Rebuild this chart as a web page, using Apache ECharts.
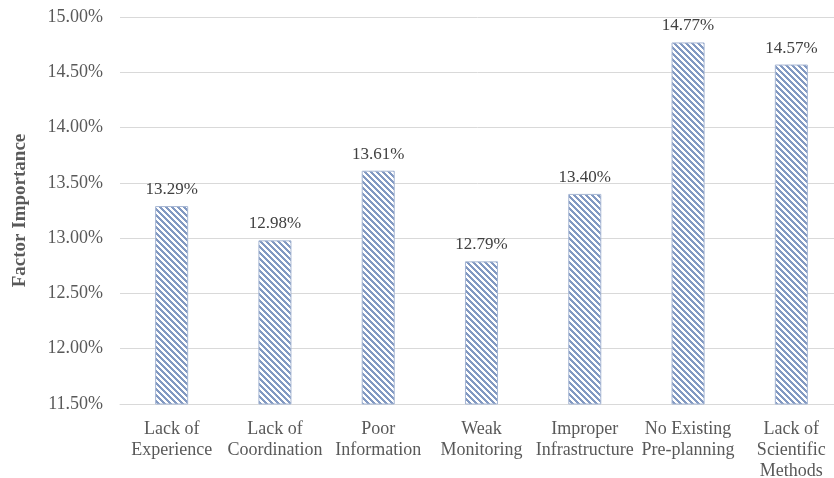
<!DOCTYPE html>
<html>
<head>
<meta charset="utf-8">
<script src="https://cdn.jsdelivr.net/npm/echarts@6/dist/echarts.min.js"></script>
<style>
  html, body { margin: 0; padding: 0; background: #ffffff; }
  #chart { width: 834px; height: 478px; }
</style>
</head>
<body>
<div id="chart"></div>
<script>
// Factors and their relative importance (percent)
const categories = [
  'Lack of\nExperience',
  'Lack of\nCoordination',
  'Poor\nInformation',
  'Weak\nMonitoring',
  'Improper\nInfrastructure',
  'No Existing\nPre-planning',
  'Lack of\nScientific\nMethods'
];
const importance = [13.29, 12.98, 13.61, 12.79, 13.40, 14.77, 14.57];
const yMin = 11.5;
const yMax = 15;
const yStep = 0.5;

// Wide downward-diagonal hatch used to fill the bars
function hatchPattern() {
  const size = 6;
  const c = document.createElement('canvas');
  c.width = size; c.height = size;
  const ctx = c.getContext('2d');
  for (let y = 0; y < size; y++) {
    for (let x = 0; x < size; x++) {
      const k = ((x - y) % size + size) % size;
      ctx.fillStyle = k < 3 ? '#8299c2' : '#ffffff';
      ctx.fillRect(x, y, 1, 1);
    }
  }
  return c;
}

const font = '"Liberation Serif", "Times New Roman", serif';
const chart = echarts.init(document.getElementById('chart'), null, { renderer: 'canvas' });

chart.setOption({
  animation: false,
  backgroundColor: '#ffffff',
  textStyle: { fontFamily: font },
  grid: {
    left: 120, right: -9, top: 17, bottom: 74,
    containLabel: false,
    outerBoundsMode: 'none'
  },
  xAxis: {
    type: 'category',
    data: categories,
    axisLine: { lineStyle: { color: '#d9d9d9', width: 1 } },
    axisTick: { show: false },
    axisLabel: {
      interval: 0,
      color: '#595959',
      fontFamily: font,
      fontSize: 18,
      lineHeight: 21,
      margin: 15
    }
  },
  yAxis: {
    type: 'value',
    min: yMin,
    max: yMax,
    interval: yStep,
    name: 'Factor Importance',
    nameLocation: 'middle',
    nameGap: 90,
    nameTextStyle: {
      fontFamily: font,
      fontWeight: 'bold',
      fontSize: 19,
      color: '#595959'
    },
    axisLine: { show: false },
    axisTick: { show: false },
    splitLine: { lineStyle: { color: '#d9d9d9', width: 1 } },
    axisLabel: {
      color: '#595959',
      fontFamily: font,
      fontSize: 18,
      margin: 17,
      formatter: v => v.toFixed(2) + '%'
    }
  },
  series: [{
    type: 'bar',
    data: importance,
    barWidth: '32%',
    itemStyle: {
      color: { image: hatchPattern(), repeat: 'repeat' },
      borderColor: '#a7b7d4',
      borderWidth: 1
    },
    label: {
      show: true,
      position: 'top',
      distance: 8,
      color: '#404040',
      fontFamily: font,
      fontSize: 17,
      formatter: p => p.value.toFixed(2) + '%'
    }
  }]
});
</script>
</body>
</html>
